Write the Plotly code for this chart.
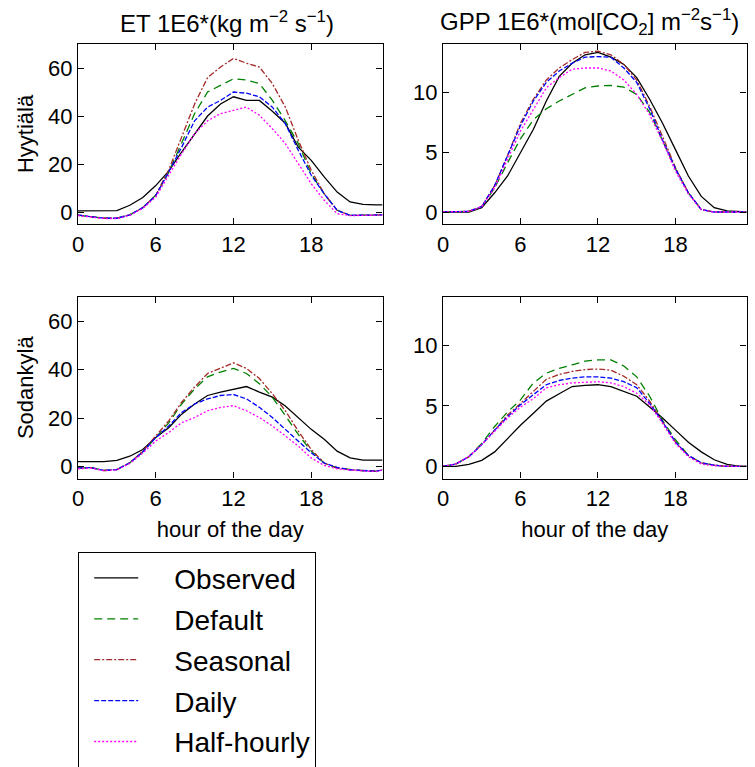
import plotly.graph_objects as go

W, H = 755, 767

hours = [0, 1, 2, 3, 4, 5, 6, 7, 8, 9, 10, 11, 12, 13, 14, 15, 16, 17, 18, 19, 20, 21, 22, 23, 23.5]
series_names = ["Observed", "Default", "Seasonal", "Daily", "Half-hourly"]

# ET 1E6*(kg m-2 s-1), Hyytiälä
et_hyy_observed = [0.5, 0.5, 0.5, 0.6, 2.8, 6, 11, 17, 25, 32.6, 40, 45, 48, 46.5, 46.5, 42, 37, 27, 21.5, 14.6, 8.3, 4.2, 3.2, 3, 3]
et_hyy_default = [-1.3, -1.8, -2.6, -2.6, -1.2, 1.8, 7, 16.5, 28.5, 41, 50, 52.8, 55.5, 55, 53.5, 46.5, 38, 28.5, 16, 7.6, 0.7, -1.4, -1.4, -1.4, -1.2]
et_hyy_seasonal = [-1.3, -1.8, -2.6, -2.6, -1.2, 1.8, 7, 17.5, 31, 45, 56, 60.4, 64, 62, 60.4, 53.5, 43.7, 29.9, 17.4, 7.6, 0.7, -1.4, -1.4, -1.4, -1.2]
et_hyy_daily = [-1.3, -1.8, -2.6, -2.6, -1.2, 1.8, 6.8, 16.7, 27, 38, 43.7, 46.5, 50, 49.5, 48, 43.7, 36.8, 25.7, 15.3, 7.6, 0.7, -1.4, -1.4, -1.4, -1.2]
et_hyy_halfhourly = [-1.5, -2, -2.7, -2.7, -1.4, 1.5, 6.2, 15.3, 24.3, 32.6, 38, 41, 42.4, 43.7, 40.3, 34.7, 28.5, 20, 11.8, 4.9, -0.7, -1.5, -1.5, -1.5, -1.3]

# GPP 1E6*(mol[CO2] m-2 s-1), Hyytiälä
gpp_hyy_observed = [0, 0, 0, 0.36, 1.6, 3, 4.9, 6.9, 9.25, 11.3, 12.4, 13.1, 13.3, 12.9, 12.3, 11.2, 9.4, 7.4, 5.2, 3, 1.3, 0.36, 0.1, 0, 0]
gpp_hyy_default = [0, 0, 0.05, 0.45, 2, 4.1, 6.1, 7.7, 8.6, 9.25, 9.8, 10.35, 10.5, 10.55, 10.4, 9.8, 8.3, 6, 3.6, 1.6, 0.2, 0, 0, 0, 0]
gpp_hyy_seasonal = [0, 0, 0.05, 0.45, 2.2, 4.7, 7.4, 9.4, 11, 12, 12.7, 13.3, 13.4, 13.1, 12.3, 11, 8.8, 6.3, 3.7, 1.6, 0.2, 0, 0, 0, 0]
gpp_hyy_daily = [0, 0, 0.05, 0.45, 2.2, 4.7, 7.2, 9.25, 10.8, 11.75, 12.4, 12.9, 12.95, 12.9, 12, 10.8, 8.6, 6, 3.6, 1.6, 0.2, 0, 0, 0, 0]
gpp_hyy_halfhourly = [0, 0, 0.05, 0.45, 2, 4.4, 6.75, 8.55, 10.35, 11.2, 11.9, 12, 12, 11.75, 11, 9.8, 8.1, 5.9, 3.4, 1.5, 0.2, 0, 0, 0, 0]

# ET, Sodankylä
et_sod_observed = [2, 2, 2, 2.5, 4.2, 7, 11.9, 16, 21.6, 25.8, 29.3, 30.7, 32, 33, 30.7, 28.6, 25, 20.2, 15.3, 11.2, 6.3, 3.5, 2.6, 2.6, 2.6]
et_sod_default = [-0.7, -0.5, -1.7, -1.3, 1.5, 6, 11.9, 18, 25.8, 32, 37, 39, 40.5, 38.4, 34.2, 28.6, 21, 13.2, 6.3, 1.4, -0.7, -1.4, -1.8, -2, -1.4]
et_sod_seasonal = [-0.7, -0.5, -1.7, -1.3, 1.5, 6.3, 12.6, 18.8, 26.5, 32.8, 38.4, 40.5, 42.8, 40.5, 36.3, 30, 23, 14.6, 7, 1.4, -0.7, -1.4, -1.8, -2, -1.4]
et_sod_daily = [-0.7, -0.5, -1.7, -1.3, 1.5, 6, 11.9, 16.7, 22.3, 25.8, 27.9, 29.3, 29.7, 27.9, 24.4, 20.2, 15.3, 10.5, 5.6, 1.4, -0.4, -1.4, -1.8, -2, -1.4]
et_sod_halfhourly = [-1, -0.7, -1.8, -1.4, 1.2, 5.5, 10.5, 14, 18.1, 20.2, 23, 24.4, 25.1, 23, 20.2, 16.7, 12.6, 8.4, 3.5, 0.4, -1, -1.5, -1.9, -2.1, -1.5]

# GPP, Sodankylä
gpp_sod_observed = [0, 0, 0.17, 0.5, 1.2, 2.3, 3.4, 4.4, 5.4, 6, 6.6, 6.7, 6.75, 6.6, 6.2, 5.8, 4.9, 4, 3, 2, 1.2, 0.55, 0.17, 0, 0]
gpp_sod_default = [0, 0.2, 0.8, 1.9, 3.3, 4.5, 5.5, 6.9, 7.7, 8.1, 8.4, 8.7, 8.8, 8.8, 8.3, 7.4, 5.8, 3.8, 2.2, 0.9, 0.3, 0.1, 0, 0, 0]
gpp_sod_seasonal = [0, 0.2, 0.8, 1.8, 3, 4.25, 5.2, 6.2, 7.2, 7.6, 7.85, 8, 8.05, 7.95, 7.45, 6.75, 5.4, 3.7, 2, 0.9, 0.3, 0.1, 0, 0, 0]
gpp_sod_daily = [0, 0.2, 0.8, 1.8, 3, 4.1, 5.1, 5.9, 6.75, 7.1, 7.3, 7.4, 7.4, 7.3, 7, 6.5, 5.2, 3.7, 2, 0.9, 0.3, 0.1, 0, 0, 0]
gpp_sod_halfhourly = [0, 0.2, 0.8, 1.8, 2.9, 4, 4.9, 5.6, 6.5, 6.75, 6.9, 6.95, 7, 6.9, 6.6, 6.05, 5.1, 3.55, 1.9, 0.8, 0.2, 0.05, 0, 0, 0]

x_ticks = [0, 6, 12, 18]
et_ticks = [0, 20, 40, 60]
gpp_ticks = [0, 5, 10]
col_titles = ["ET 1E6*(kg m<sup>\u22122</sup> s<sup>\u22121</sup>)",
              "GPP 1E6*(mol[CO<sub>2</sub>] m<sup>\u22122</sup>s<sup>\u22121</sup>)"]
row_titles = ["Hyyti\u00e4l\u00e4", "Sodankyl\u00e4"]
x_title = "hour of the day"

styles = {
    "Observed": dict(color="black", dash="solid"),
    "Default": dict(color="#008000", dash="8px,5px"),
    "Seasonal": dict(color="#a52a2a", dash="6px,2px,2px,2px"),
    "Daily": dict(color="#0000ff", dash="5px,2px"),
    "Half-hourly": dict(color="#ff00ff", dash="2px,2px"),
}

panels = [
    ("x", "y", [et_hyy_observed, et_hyy_default, et_hyy_seasonal, et_hyy_daily, et_hyy_halfhourly]),
    ("x2", "y2", [gpp_hyy_observed, gpp_hyy_default, gpp_hyy_seasonal, gpp_hyy_daily, gpp_hyy_halfhourly]),
    ("x3", "y3", [et_sod_observed, et_sod_default, et_sod_seasonal, et_sod_daily, et_sod_halfhourly]),
    ("x4", "y4", [gpp_sod_observed, gpp_sod_default, gpp_sod_seasonal, gpp_sod_daily, gpp_sod_halfhourly]),
]

FONT = "Liberation Sans, Arial, sans-serif"
TS = 22
PAD = "\u00a0\u00a0\u00a0\u00a0"
fig = go.Figure()
for pi, (xa, ya, data) in enumerate(panels):
    for name, vals in zip(series_names, data):
        st = styles[name]
        fig.add_trace(go.Scatter(
            x=hours, y=vals, xaxis=xa, yaxis=ya, mode="lines", name=PAD + name,
            line=dict(color=st["color"], dash=st["dash"], width=1.3),
            showlegend=(pi == 0), legendgroup=name,
        ))

xl = [78 / W, 382.5 / W]
xr = [443 / W, 746.5 / W]
yt = [1 - 224 / H, 1 - 44 / H]
yb = [1 - 478.5 / H, 1 - 297 / H]

def xaxis(domain, anchor, title=None):
    d = dict(domain=domain, anchor=anchor, range=[0, 23.5], tickvals=x_ticks,
             ticks="inside", ticklen=6, tickcolor="black", mirror="ticks",
             showline=True, linecolor="black", linewidth=1.2, showgrid=False,
             zeroline=False, tickfont=dict(size=TS, color="black", family=FONT))
    if title:
        d["title"] = dict(text=title, font=dict(size=TS, color="black", family=FONT), standoff=11)
    return d

def yaxis(domain, anchor, rng, tv, title=None):
    d = dict(domain=domain, anchor=anchor, range=rng, tickvals=tv,
             ticks="inside", ticklen=6, tickcolor="black", mirror="ticks",
             showline=True, linecolor="black", linewidth=1.2, showgrid=False,
             zeroline=False, tickfont=dict(size=TS, color="black", family=FONT))
    if title:
        d["title"] = dict(text=title, font=dict(size=TS, color="black", family=FONT), standoff=8)
    return d

fig.update_layout(
    width=W, height=H, margin=dict(l=0, r=0, t=0, b=0, autoexpand=False),
    paper_bgcolor="white", plot_bgcolor="white",
    font=dict(family=FONT, color="black"),
    xaxis=xaxis(xl, "y"),
    yaxis=yaxis(yt, "x", [-5, 70], et_ticks, row_titles[0]),
    xaxis2=xaxis(xr, "y2"),
    yaxis2=yaxis(yt, "x2", [-1, 14], gpp_ticks),
    xaxis3=xaxis(xl, "y3", x_title),
    yaxis3=yaxis(yb, "x3", [-5, 70], et_ticks, row_titles[1]),
    xaxis4=xaxis(xr, "y4", x_title),
    yaxis4=yaxis(yb, "x4", [-1, 14], gpp_ticks),
    legend=dict(x=78 / W, y=1 - 552 / H, xanchor="left", yanchor="top",
                bordercolor="black", borderwidth=1.2, bgcolor="white",
                font=dict(size=28, family=FONT, color="black"),
                traceorder="grouped", tracegroupgap=1.5, itemwidth=44, indentation=10),
    annotations=[
        dict(text=col_titles[0], x=118 / W, y=1 - 22 / H, xref="paper", yref="paper",
             showarrow=False, xanchor="left", yanchor="middle", font=dict(size=24, family=FONT)),
        dict(text=col_titles[1], x=438 / W, y=1 - 22 / H, xref="paper", yref="paper",
             showarrow=False, xanchor="left", yanchor="middle", font=dict(size=24, family=FONT)),
    ],
)

fig.write_html("out.html")
